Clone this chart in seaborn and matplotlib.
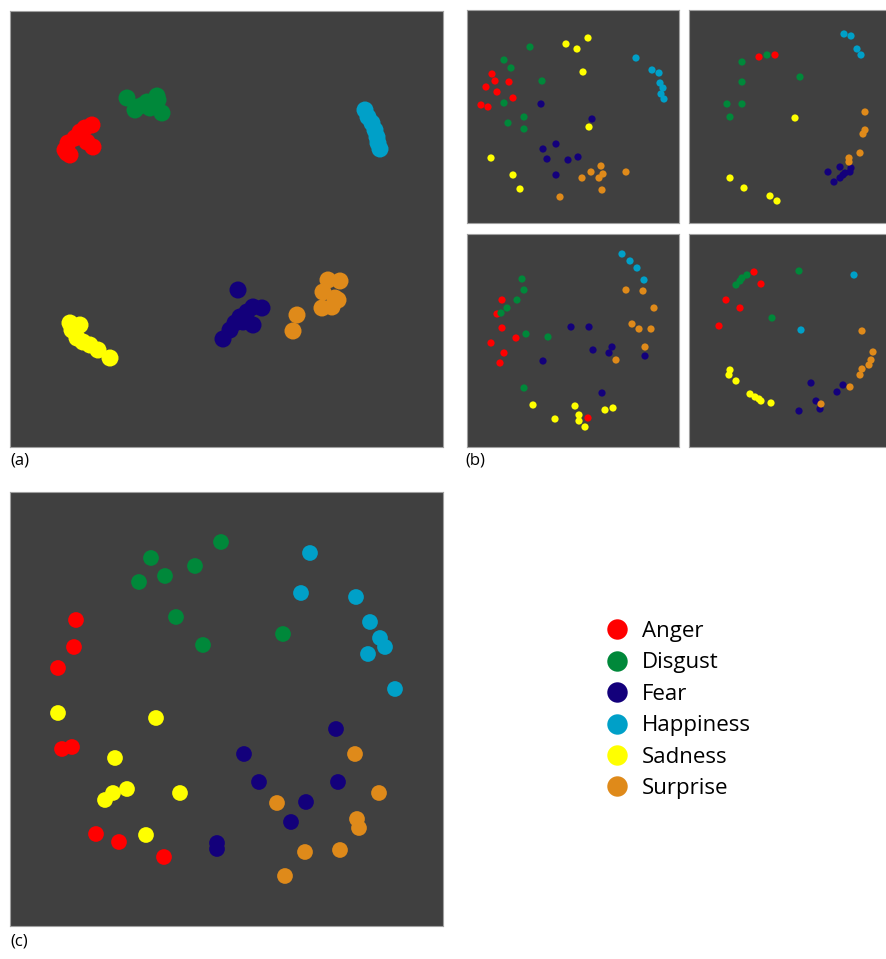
import matplotlib
matplotlib.use('Agg')
import matplotlib.pyplot as plt
import seaborn as sns
import pandas as pd

sns.set_style('white')
plt.rcParams['font.family'] = ['Open Sans', 'DejaVu Sans']
plt.rcParams['text.color'] = 'black'

emotions = ['Anger', 'Disgust', 'Fear', 'Happiness', 'Sadness', 'Surprise']
colors = ['#ff0000', '#00883a', '#13007b', '#00a0c8', '#ffff00', '#df8a1a']

# panel (a), pixel coords
a_pts = {
    'Anger': [(82, 115), (75, 118), (70, 122), (65, 128), (58, 133), (55, 140), (60, 145), (77, 132), (83, 137), (57, 143)],
    'Disgust': [(117, 88), (125, 100), (133, 95), (137, 92), (147, 86), (148, 90), (152, 103), (140, 98), (128, 97)],
    'Fear': [(228, 280), (252, 298), (243, 297), (237, 302), (230, 307), (225, 313), (220, 320), (213, 329), (243, 315), (233, 312)],
    'Happiness': [(355, 100), (358, 107), (362, 113), (365, 120), (367, 127), (368, 133), (370, 139)],
    'Sadness': [(60, 313), (70, 315), (65, 322), (67, 328), (73, 332), (80, 335), (88, 340), (100, 348), (62, 320)],
    'Surprise': [(318, 270), (330, 271), (313, 282), (328, 290), (322, 297), (312, 298), (325, 288), (287, 305), (283, 321)],
}

# panel (b), four small maps
b1_pts = {
    'Anger': [(26, 64), (29, 71), (43, 72), (20, 77), (31, 82), (47, 88), (15, 95), (22, 97)],
    'Disgust': [(64, 37), (38, 50), (45, 58), (76, 71), (38, 93), (58, 107), (42, 113), (58, 119)],
    'Fear': [(75, 94), (126, 109), (90, 134), (77, 139), (81, 149), (102, 150), (112, 147), (90, 165)],
    'Happiness': [(170, 48), (186, 60), (193, 63), (194, 73), (197, 78), (195, 84), (198, 89)],
    'Sadness': [(100, 34), (122, 28), (111, 39), (117, 62), (123, 117), (25, 148), (47, 165), (54, 179)],
    'Surprise': [(135, 156), (125, 162), (137, 164), (133, 168), (116, 168), (160, 162), (136, 180), (94, 187)],
}
b2_pts = {
    'Anger': [(71, 47), (87, 45)],
    'Disgust': [(79, 45), (54, 52), (54, 72), (112, 67), (39, 94), (54, 94), (42, 107)],
    'Fear': [(140, 162), (152, 157), (163, 158), (157, 163), (162, 162), (152, 168), (146, 172), (155, 165)],
    'Happiness': [(156, 24), (163, 26), (169, 39), (173, 45)],
    'Sadness': [(107, 108), (42, 168), (56, 178), (82, 186), (89, 191)],
    'Surprise': [(177, 102), (177, 120), (175, 124), (172, 143), (161, 148), (161, 152)],
}
b3_pts = {
    'Anger': [(36, 68), (31, 82), (36, 96), (50, 106), (25, 111), (38, 121), (34, 131), (122, 186)],
    'Disgust': [(56, 47), (58, 58), (51, 68), (41, 76), (35, 81), (60, 102), (82, 105), (58, 156)],
    'Fear': [(105, 95), (123, 95), (127, 118), (146, 115), (143, 121), (179, 124), (77, 129), (136, 161)],
    'Happiness': [(156, 22), (164, 29), (171, 36), (178, 48)],
    'Sadness': [(67, 173), (109, 174), (147, 176), (139, 178), (113, 183), (113, 189), (89, 187), (119, 195)],
    'Surprise': [(160, 58), (177, 59), (188, 76), (166, 92), (173, 97), (185, 97), (179, 115), (150, 128)],
}
b4_pts = {
    'Anger': [(66, 40), (73, 52), (38, 68), (52, 76), (31, 94)],
    'Disgust': [(59, 43), (54, 46), (52, 49), (48, 53), (111, 39), (84, 86)],
    'Fear': [(123, 151), (155, 153), (149, 160), (128, 169), (132, 177), (111, 179)],
    'Happiness': [(166, 43), (113, 98)],
    'Sadness': [(42, 138), (41, 143), (48, 149), (62, 162), (67, 165), (71, 167), (73, 169), (83, 171)],
    'Surprise': [(174, 99), (185, 120), (183, 128), (181, 133), (174, 137), (172, 143), (162, 155), (133, 172)],
}

# panel (c)
c_pts = {
    'Anger': [(66, 130), (64, 157), (48, 178), (52, 259), (62, 257), (86, 344), (109, 352), (154, 367)],
    'Disgust': [(211, 52), (141, 68), (185, 76), (155, 86), (129, 92), (166, 127), (193, 155), (273, 144)],
    'Fear': [(326, 239), (234, 264), (249, 292), (328, 292), (296, 312), (281, 332), (207, 353), (207, 359)],
    'Happiness': [(300, 63), (291, 103), (346, 107), (360, 132), (370, 148), (375, 157), (358, 164), (385, 199)],
    'Sadness': [(48, 223), (146, 228), (105, 268), (117, 299), (103, 303), (95, 310), (170, 303), (136, 345)],
    'Surprise': [(345, 264), (369, 303), (267, 313), (347, 329), (349, 338), (295, 362), (330, 360), (275, 386)],
}


def to_frame(pts):
    rows = [(x, y, emo) for emo, lst in pts.items() for x, y in lst]
    return pd.DataFrame(rows, columns=['x', 'y', 'emotion'])


W, H = 887, 959
fig = plt.figure(figsize=(W / 100, H / 100), dpi=100)

# (points, panel box left/top/right/bottom in px, origin of coords, marker size)
panels = [
    (a_pts, (10, 11, 443, 447), (10, 10), 150),
    (b1_pts, (467, 10, 679, 223), (466, 10), 27),
    (b2_pts, (689, 10, 887, 223), (688, 10), 27),
    (b3_pts, (467, 234, 679, 447), (466, 232), 27),
    (b4_pts, (689, 234, 887, 447), (688, 232), 27),
    (c_pts, (10, 492, 443, 926), (10, 490), 128),
]

axes = []
for pts, (l, t, r, b), (ox, oy), size in panels:
    ax = fig.add_axes([l / W, 1 - b / H, (r - l) / W, (b - t) / H])
    is_c = pts is c_pts
    sns.scatterplot(data=to_frame(pts), x='x', y='y', hue='emotion',
                    hue_order=emotions, palette=colors, s=size,
                    linewidth=0, legend=is_c, ax=ax)
    ax.set_xlim(l - ox, r - ox)
    ax.set_ylim(b - oy, t - oy)
    ax.set_facecolor('#404040')
    ax.set_xticks([])
    ax.set_yticks([])
    ax.set_xlabel('')
    ax.set_ylabel('')
    for sp in ax.spines.values():
        sp.set_color('#a0a0a0')
        sp.set_linewidth(0.8)
    axes.append(ax)

sns.move_legend(axes[-1], loc='upper left',
                bbox_to_anchor=(606 / W, 1 - 621 / H),
                bbox_transform=fig.transFigure, frameon=False, title=None,
                fontsize=16, markerscale=1.3, handletextpad=0.62,
                handlelength=1.0, labelspacing=0.47, borderpad=0,
                borderaxespad=0, labelcolor='black')

fig.text(10 / W, 1 - 461 / H, '(a)', fontsize=12, va='center', ha='left', color='black')
fig.text(465 / W, 1 - 461 / H, '(b)', fontsize=12, va='center', ha='left', color='black')
fig.text(10 / W, 1 - 942 / H, '(c)', fontsize=12, va='center', ha='left', color='black')

fig.savefig('out.png', dpi=100)
